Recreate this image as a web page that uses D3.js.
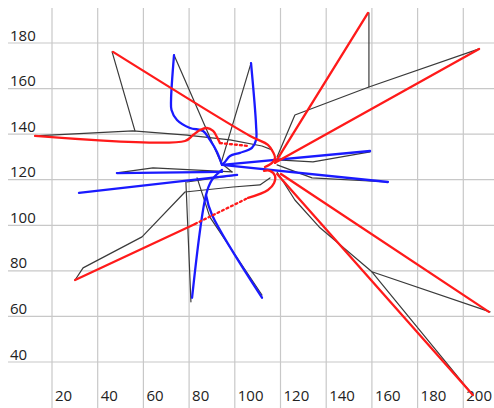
<!DOCTYPE html>
<html><head><meta charset="utf-8">
<script src="https://cdn.jsdelivr.net/npm/d3@7"></script>
<style>html,body{margin:0;padding:0;background:#fff;}svg{display:block}</style>
</head><body><svg id="c" width="494" height="408"></svg>
<script>
// Tick labels
const xTicks = [20, 40, 60, 80, 100, 120, 140, 160, 180, 200];
const yTicks = [40, 60, 80, 100, 120, 140, 160, 180];

// Black (thin) series
const black1  = [[46.3,176.1],[56.3,141.4]];
const black2  = [[12.6,139.2],[55.4,141.4],[79.1,139.6],[97.9,137.5],[111.9,134.8],[116.3,133.1]];
const black3  = [[73.4,174.7],[94.0,127.3]];
const black4  = [[107.1,171.2],[94.0,127.3]];
const black5  = [[94.0,127.3],[98.8,123.4]];
const black6  = [[48.4,123.0],[64.2,125.2],[98.8,123.4]];
const black7  = [[79.1,119.0],[101.0,122.1]];
const black8  = [[30.1,76.0],[33.6,81.3],[59.4,94.9],[78.2,114.6],[99.2,116.8],[111.0,117.7],[115.4,120.8]];
const black9  = [[78.6,119.0],[80.8,66.4]];
const black10 = [[83.5,120.8],[89.1,103.6],[111.9,69.4]];
const black11 = [[158.7,193.2],[158.7,160.7]];
const black12 = [[206.9,177.4],[158.7,160.7],[126.3,148.4],[118.5,130.0]];
const black13 = [[118.5,128.7],[134.2,127.8],[159.2,132.2]];
const black14 = [[118.5,126.5],[133.8,120.8],[167.0,119.0]];
const black15 = [[118.5,123.4],[126.3,111.1],[137.3,98.9],[160.0,79.6],[211.7,62.0]];
const black16 = [[160.0,79.6],[204.2,25.5]];

// Red (thick) series
const red1      = [[12.6,139.2],[78.2,137.0],[81.7,139.6],[84.8,141.8],[87.8,142.7],[90.5,141.4],[92.2,138.7],[93.5,136.1]];
const red1Dot   = [[93.5,136.1],[106.2,134.8]];
const red2      = [[46.7,176.1],[106.7,139.2],[114.5,135.3],[116.7,132.2],[117.6,129.6],[116.3,127.4],[113.2,125.6]];
const red3      = [[158.3,193.2],[117.6,127.4]];
const red4      = [[206.9,177.4],[117.6,127.4]];
const red5      = [[30.1,76.0],[82.6,100.6]];
const red5Dot   = [[82.6,100.6],[105.8,112.0]];
const red5Hub   = [[105.8,112.0],[114.5,115.5],[117.2,118.6],[117.6,121.7],[115.4,123.9],[112.8,123.9]];
const red6      = [[120.2,122.5],[211.2,62.0]];
const red7      = [[118.5,122.5],[204.2,25.5]];

// Blue (thick) series
const blue1 = [[73.4,174.7],[72.1,155.0],[72.3,150.6],[74.7,146.2],[80.4,142.7],[86.1,141.4],[89.1,137.5],[92.2,132.2],[94.4,126.5]];
const blue2 = [[107.1,171.2],[109.3,144.0],[109.3,137.4],[107.5,134.0],[102.3,131.8],[97.9,130.4],[95.7,127.8],[94.4,126.5]];
const blue3 = [[94.4,126.5],[159.2,132.6]];
const blue4 = [[94.4,126.5],[167.0,119.0]];
const blue5 = [[48.4,122.9],[94.4,123.4]];
const blue6 = [[31.8,114.2],[101.0,122.1]];
const blue7 = [[94.4,124.3],[90.0,119.9],[87.4,113.3],[81.3,68.2]];
const blue8 = [[87.4,113.3],[90.0,104.6],[111.9,68.2]];

const W = 494, H = 408;
const x = d3.scaleLinear().domain([20, 200]).range([52, 463.3]);
const y = d3.scaleLinear().domain([40, 180]).range([362, 43]);

const svg = d3.select("#c");

// Grid
const g = svg.append("g");
g.selectAll("line.v").data(xTicks).join("line")
  .attr("x1", d => x(d)).attr("x2", d => x(d))
  .attr("y1", 8).attr("y2", H)
  .attr("stroke", "#c8c8c8").attr("stroke-width", 1.2);
g.selectAll("line.h").data(yTicks).join("line")
  .attr("x1", 8).attr("x2", W)
  .attr("y1", d => y(d)).attr("y2", d => y(d))
  .attr("stroke", "#c8c8c8").attr("stroke-width", 1.2);

// Tick labels
svg.append("g").selectAll("text").data(yTicks).join("text")
  .attr("x", 10).attr("y", d => y(d) - 2.5)
  .attr("font-family", "Open Sans, sans-serif").attr("font-size", 15)
  .attr("fill", "#222").text(d => d);
svg.append("g").selectAll("text").data(xTicks).join("text")
  .attr("x", d => x(d) + 3).attr("y", 401)
  .attr("font-family", "Open Sans, sans-serif").attr("font-size", 15)
  .attr("fill", "#222").text(d => d);

const lin = d3.line().x(d => x(d[0])).y(d => y(d[1]));
const smooth = d3.line().x(d => x(d[0])).y(d => y(d[1])).curve(d3.curveCatmullRom.alpha(0.5));

const series = [
  {d: black1, c: "#3a3a3a", w: 1.2}, {d: black2, c: "#3a3a3a", w: 1.2},
  {d: black3, c: "#3a3a3a", w: 1.2}, {d: black4, c: "#3a3a3a", w: 1.2},
  {d: black5, c: "#3a3a3a", w: 1.2}, {d: black6, c: "#3a3a3a", w: 1.2},
  {d: black7, c: "#3a3a3a", w: 1.2}, {d: black8, c: "#3a3a3a", w: 1.2},
  {d: black9, c: "#3a3a3a", w: 1.2}, {d: black10, c: "#3a3a3a", w: 1.2},
  {d: black11, c: "#3a3a3a", w: 1.2}, {d: black12, c: "#3a3a3a", w: 1.2},
  {d: black13, c: "#3a3a3a", w: 1.2}, {d: black14, c: "#3a3a3a", w: 1.2},
  {d: black15, c: "#3a3a3a", w: 1.2}, {d: black16, c: "#3a3a3a", w: 1.2},
  {d: blue1, c: "#1a1aff", w: 2.3, s: true}, {d: blue2, c: "#1a1aff", w: 2.3, s: true},
  {d: blue3, c: "#1a1aff", w: 2.3}, {d: blue4, c: "#1a1aff", w: 2.3},
  {d: blue5, c: "#1a1aff", w: 2.3}, {d: blue6, c: "#1a1aff", w: 2.3},
  {d: blue7, c: "#1a1aff", w: 2.3, s: true}, {d: blue8, c: "#1a1aff", w: 2.3, s: true},
  {d: red1, c: "#ff1a1a", w: 2.3, s: true}, {d: red1Dot, c: "#ff1a1a", w: 2.3, dash: "2,3"},
  {d: red2, c: "#ff1a1a", w: 2.3, s: true}, {d: red3, c: "#ff1a1a", w: 2.3},
  {d: red4, c: "#ff1a1a", w: 2.3}, {d: red5, c: "#ff1a1a", w: 2.3},
  {d: red5Dot, c: "#ff1a1a", w: 2.3, dash: "2,3"}, {d: red5Hub, c: "#ff1a1a", w: 2.3, s: true},
  {d: red6, c: "#ff1a1a", w: 2.3}, {d: red7, c: "#ff1a1a", w: 2.3}
];

svg.append("g").selectAll("path").data(series).join("path")
  .attr("d", s => (s.s ? smooth : lin)(s.d))
  .attr("fill", "none")
  .attr("stroke", s => s.c)
  .attr("stroke-width", s => s.w)
  .attr("stroke-dasharray", s => s.dash || null)
  .attr("stroke-linejoin", "round")
  .attr("stroke-linecap", "round");
</script></body></html>
